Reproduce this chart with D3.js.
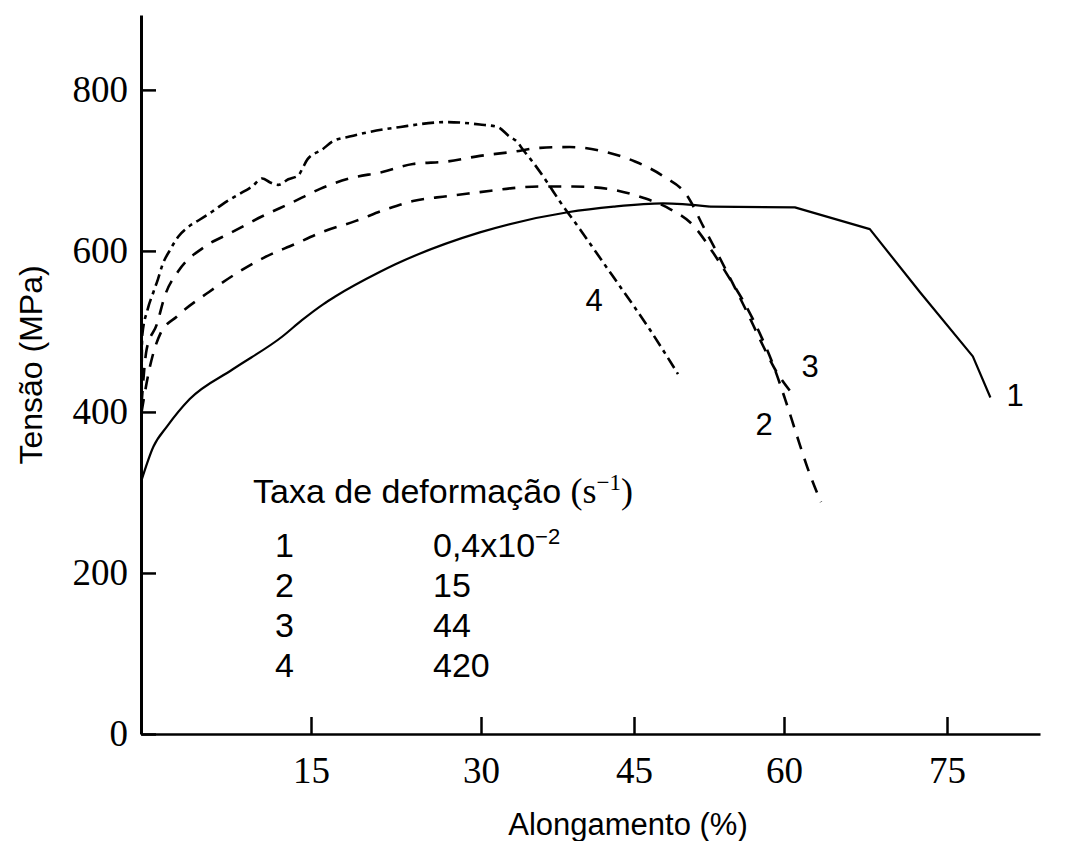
<!DOCTYPE html>
<html>
<head>
<meta charset="utf-8">
<script src="https://cdn.jsdelivr.net/npm/d3@7"></script>
<style>
  body { margin: 0; background: #fff; }
  svg { display: block; }
</style>
</head>
<body>
<figure id="chart" style="margin:0"></figure>
<script>
// ticks
const xTicks = [15, 30, 45, 60, 75]
const yTicks = [0, 200, 400, 600, 800]

// curve 1 (0,4x10^-2 s^-1), solid
const along1 = [0, 1.1, 2.3, 4.3, 8.1, 12.5, 14.2, 16.1, 17.1, 21.1, 22.4, 29.9, 38.5, 43.0, 47.9, 52.6, 61.0, 67.9, 72.5, 77.5, 79.2]
const tensao1 = [313, 357, 382, 416, 453, 494, 514, 534, 543, 574, 583, 623, 648, 655, 659, 655, 654, 627, 549, 469, 418]

// curve 2 (15 s^-1), dashed
const along2 = [0.05, 0.8, 1.7, 3.2, 6.0, 8.3, 10.9, 13.5, 16.1, 18.9, 21.7, 24.0, 27.0, 29.9, 33.1, 35.8, 39.0, 42.5, 45.4, 48.6, 50.9, 52.9, 54.6, 56.1, 57.6, 58.9, 60.1, 61.2, 62.1, 63.4]
const tensao2 = [400, 457, 497, 519, 549, 571, 592, 608, 624, 637, 652, 662, 668, 673, 678, 680, 680, 677, 668, 652, 632, 598, 565, 534, 497, 459, 416, 370, 333, 288]

// curve 3 (44 s^-1), dashed
const along3 = [0.05, 0.5, 1.4, 2.1, 3.3, 5.6, 8.0, 10.7, 13.3, 15.8, 18.4, 21.3, 24.0, 27.0, 29.9, 33.1, 35.8, 38.7, 42.2, 45.1, 47.9, 50.4, 51.9, 53.3, 54.9, 56.3, 57.6, 59.1, 60.8]
const tensao3 = [410, 478, 509, 544, 575, 605, 623, 643, 660, 677, 690, 698, 708, 711, 718, 723, 728, 729, 723, 711, 693, 667, 631, 598, 559, 524, 490, 453, 422]

// curve 4 (420 s^-1), dash-dot
const along4 = [0.05, 0.1, 0.6, 1.1, 1.5, 1.9, 2.6, 3.3, 4.1, 5.2, 6.3, 7.4, 8.6, 9.8, 10.7, 11.4, 12.1, 13.0, 13.9, 14.2, 14.7, 16.0, 16.9, 18.4, 19.9, 22.9, 27.0, 29.9, 31.6, 32.8, 33.5, 34.1, 35.1, 36.5, 37.7, 39.7, 41.3, 42.9, 44.9, 46.6, 48.3, 49.4]
const tensao4 = [430, 494, 528, 549, 565, 583, 602, 618, 629, 639, 649, 660, 670, 680, 690, 685, 682, 689, 694, 701, 714, 726, 736, 742, 747, 754, 760, 757, 754, 742, 736, 726, 710, 685, 662, 627, 598, 569, 533, 502, 469, 447]

// legend
const legendIds = ['1', '2', '3', '4']
const legendRates = ['0,4x10', '15', '44', '420']
const legendExps = ['\u22122', '', '', '']

// curve labels (in data units)
const curveLabels = ['1', '2', '3', '4']
const labelAlong = [81.6, 58.0, 62.4, 41.1]
const labelTensao = [420, 385, 456, 539]

const width = 1066
const height = 841
const serif = '"Liberation Serif", "Times New Roman", serif'
const sans = '"Liberation Sans", Arial, sans-serif'

let svg = d3.select('figure#chart')
    .append('svg')
    .attr('width', width)
    .attr('height', height)
    .style('background', '#fff')

// scanned axis is not perfectly even, so x uses a piecewise scale
let xScale = d3.scaleLinear()
    .domain([0, 15, 30, 45, 60, 75, 84])
    .range([141, 311, 481, 634, 784, 947, 1040])
let yScale = d3.scaleLinear()
    .domain([0, 893])
    .range([734, 15])

let xAxis = d3.axisBottom(xScale)
    .tickValues(xTicks)
    .tickSizeInner(-17)
    .tickSizeOuter(0)
    .tickPadding(23)
    .tickFormat(d3.format('d'))

let yAxis = d3.axisLeft(yScale)
    .tickValues(yTicks)
    .tickSizeInner(-15)
    .tickSizeOuter(0)
    .tickPadding(13)
    .tickFormat(d3.format('d'))

let gx = svg.append('g')
    .attr('transform', `translate(0, ${yScale(0)})`)
    .call(xAxis)
gx.select('.domain').attr('stroke', '#000').attr('stroke-width', 2.5)
gx.selectAll('.tick line').attr('stroke', '#000').attr('stroke-width', 2.5)
gx.selectAll('.tick text')
    .attr('fill', '#000')
    .style('font-family', serif)
    .style('font-size', '37px')

let gy = svg.append('g')
    .attr('transform', `translate(${xScale(0)}, 0)`)
    .call(yAxis)
gy.select('.domain').attr('stroke', '#000').attr('stroke-width', 3)
gy.selectAll('.tick line').attr('stroke', '#000').attr('stroke-width', 2.5)
gy.selectAll('.tick text')
    .attr('fill', '#000')
    .style('font-family', serif)
    .style('font-size', '37px')

// curves: smooth part, then straight segments after `corner` (sharp kinks)
let series = [
    { x: along1, y: tensao1, dash: null, w: 2.2, corner: 15 },
    { x: along2, y: tensao2, dash: '13,10', w: 2.6, corner: null },
    { x: along3, y: tensao3, dash: '13,10', w: 2.6, corner: null },
    { x: along4, y: tensao4, dash: '12,5,4,5', w: 2.6, corner: null }
]

let smooth = d3.line()
    .x(d => xScale(d[0]))
    .y(d => yScale(d[1]))
    .curve(d3.curveMonotoneX)
let straight = d3.line()
    .x(d => xScale(d[0]))
    .y(d => yScale(d[1]))

series.forEach(s => {
    let pts = s.x.map((d, i) => [d, s.y[i]])
    let parts = s.corner == null
        ? [[pts, smooth]]
        : [[pts.slice(0, s.corner + 1), smooth], [pts.slice(s.corner), straight]]
    parts.forEach(([p, gen]) => {
        svg.append('path')
            .attr('d', gen(p))
            .attr('fill', 'none')
            .attr('stroke', '#000')
            .attr('stroke-width', s.w)
            .attr('stroke-linejoin', 'round')
            .attr('stroke-dasharray', s.dash)
    })
})

// curve labels
svg.selectAll('.curve-label')
    .data(curveLabels)
    .enter()
    .append('text')
    .attr('class', 'curve-label')
    .attr('x', (d, i) => xScale(labelAlong[i]))
    .attr('y', (d, i) => yScale(labelTensao[i]))
    .attr('text-anchor', 'middle')
    .attr('dominant-baseline', 'central')
    .style('font-family', sans)
    .style('font-size', '31px')
    .text(d => d)

// axis titles
svg.append('text')
    .attr('x', 628)
    .attr('y', 835)
    .attr('text-anchor', 'middle')
    .style('font-family', sans)
    .style('font-size', '31px')
    .text('Alongamento (%)')

svg.append('text')
    .attr('transform', 'translate(42, 365) rotate(-90)')
    .attr('text-anchor', 'middle')
    .style('font-family', sans)
    .style('font-size', '32px')
    .text('Tensão (MPa)')

// legend
let title = svg.append('text')
    .attr('x', 253)
    .attr('y', 503)
    .style('font-family', sans)
    .style('font-size', '34px')
title.append('tspan').text('Taxa de deformação ')
title.append('tspan').style('font-family', serif).style('font-size', '36px').text('(s')
title.append('tspan').style('font-family', serif).style('font-size', '23px').attr('dy', -13).text('\u22121')
title.append('tspan').style('font-family', serif).style('font-size', '36px').attr('dy', 13).text(')')

let rows = svg.selectAll('.legend-row')
    .data(legendIds)
    .enter()
    .append('g')
    .attr('class', 'legend-row')
    .attr('transform', (d, i) => `translate(0, ${557 + i * 40})`)

rows.append('text')
    .attr('x', 275)
    .style('font-family', sans)
    .style('font-size', '34px')
    .text(d => d)

let rate = rows.append('text')
    .attr('x', 433)
    .style('font-family', sans)
    .style('font-size', '34px')
rate.append('tspan').text((d, i) => legendRates[i])
rate.append('tspan')
    .attr('dy', -13)
    .style('font-size', '22px')
    .text((d, i) => legendExps[i])
</script>
</body>
</html>
